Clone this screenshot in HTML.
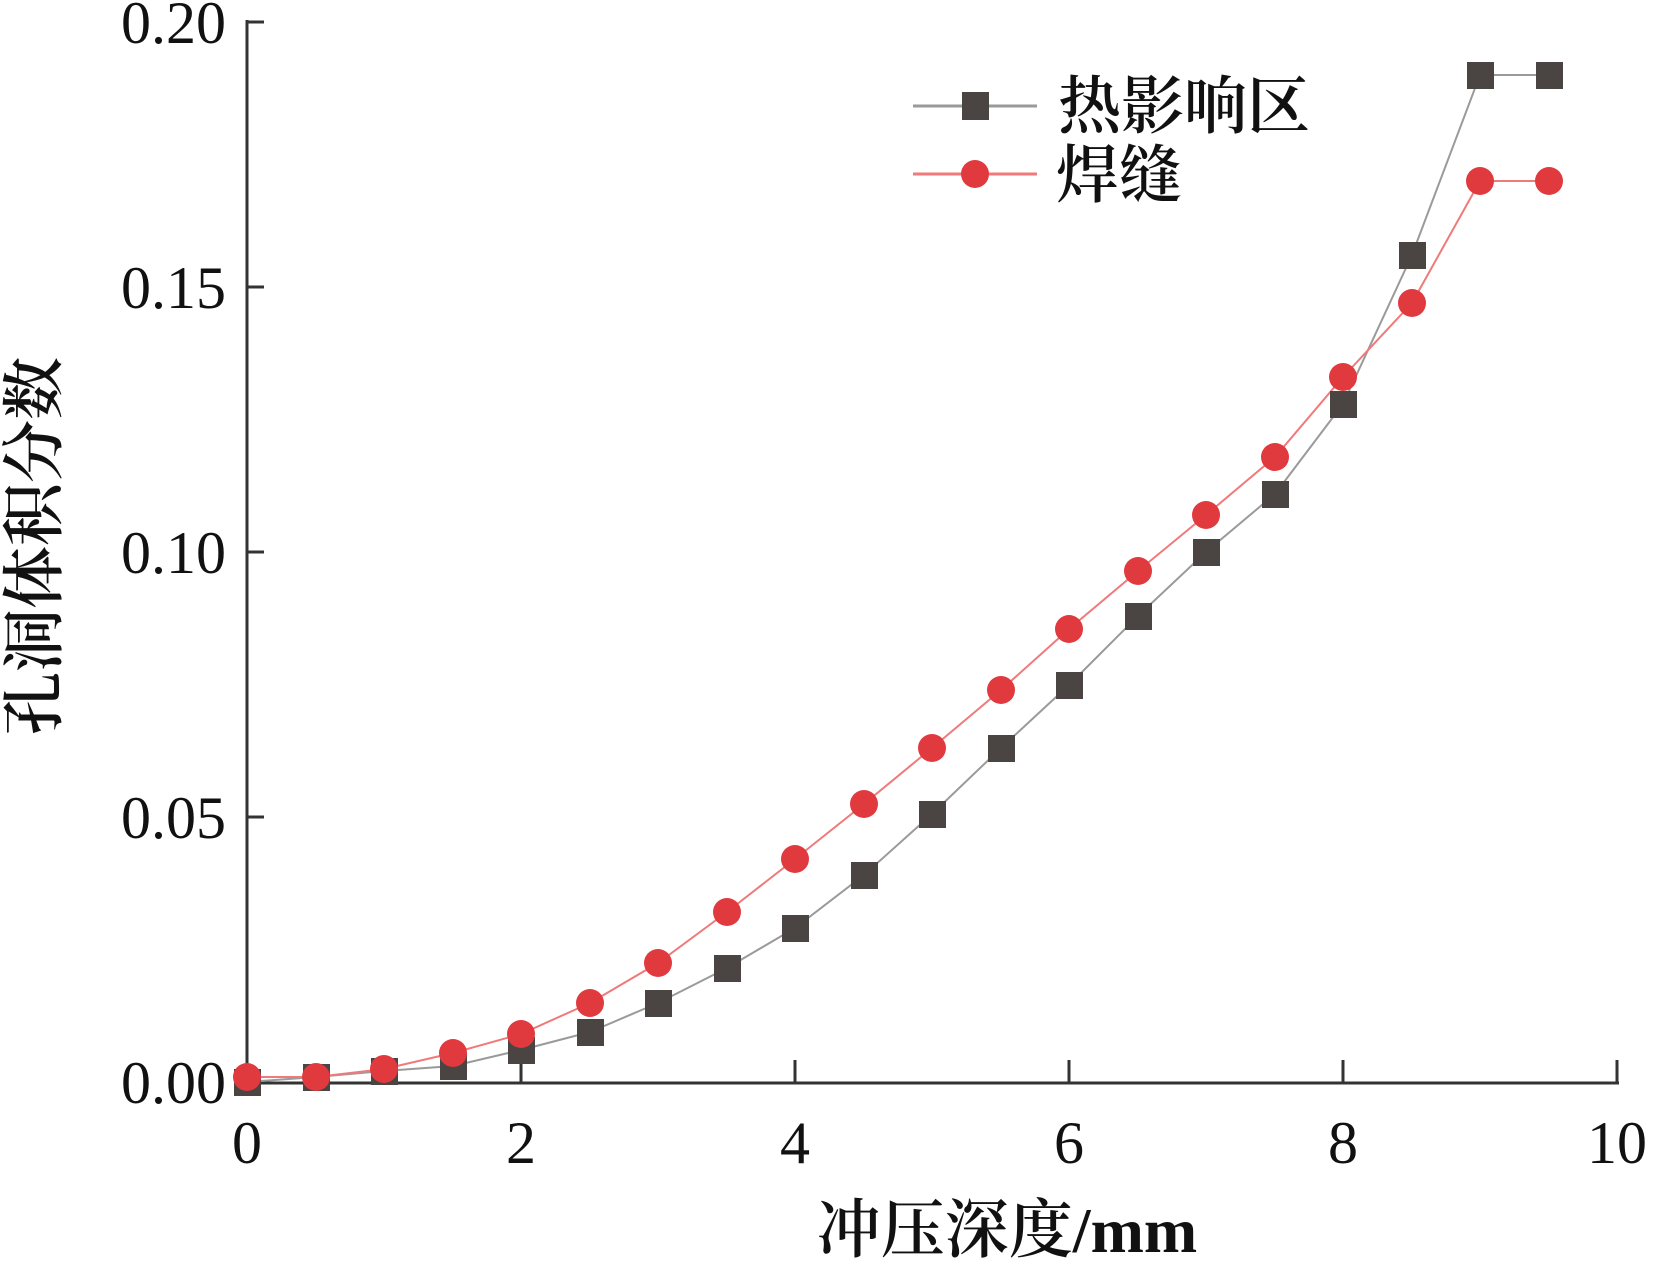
<!DOCTYPE html>
<html><head><meta charset="utf-8"><style>
html,body{margin:0;padding:0;background:#fff;}
svg{display:block;}
.t{font-family:"Liberation Serif","Noto Serif CJK SC",serif;fill:#111;}
.c{font-family:"Liberation Serif","Noto Serif CJK SC",serif;fill:#111;font-weight:600;}
</style></head><body>
<svg width="1654" height="1264" viewBox="0 0 1654 1264" xmlns="http://www.w3.org/2000/svg">
<g stroke="#333" stroke-width="3" fill="none">
<line x1="247" y1="20" x2="247" y2="1083"/>
<line x1="246" y1="1083" x2="1619" y2="1083"/>
<line x1="247" y1="22" x2="264" y2="22"/>
<line x1="247" y1="287" x2="264" y2="287"/>
<line x1="247" y1="552" x2="264" y2="552"/>
<line x1="247" y1="817" x2="264" y2="817"/>
<line x1="521" y1="1083" x2="521" y2="1060"/>
<line x1="795" y1="1083" x2="795" y2="1060"/>
<line x1="1069" y1="1083" x2="1069" y2="1060"/>
<line x1="1343" y1="1083" x2="1343" y2="1060"/>
<line x1="1617" y1="1083" x2="1617" y2="1060"/>
</g>
<g class="t" font-size="60" text-anchor="end">
<text x="226" y="43">0.20</text>
<text x="226" y="308">0.15</text>
<text x="226" y="573">0.10</text>
<text x="226" y="838">0.05</text>
<text x="226" y="1103">0.00</text>
</g>
<g class="t" font-size="60" text-anchor="middle">
<text x="247" y="1163">0</text>
<text x="521" y="1163">2</text>
<text x="795" y="1163">4</text>
<text x="1069" y="1163">6</text>
<text x="1343" y="1163">8</text>
<text x="1617" y="1163">10</text>
</g>
<text class="c" x="1007" y="1252" font-size="64" text-anchor="middle">冲压深度/mm</text>
<text class="c" x="0" y="0" font-size="63" text-anchor="middle" transform="translate(56,546) rotate(-90)">孔洞体积分数</text>
<polyline fill="none" stroke="#9a9a9a" stroke-width="2" points="247,1082 316,1077 384,1071 453,1066 521,1050 590,1032 658,1003 727,968 795,928 864,875 932,814 1001,748 1069,685 1138,616 1206,552 1275,494 1343,404 1412,255 1480,75 1549,75"/>
<polyline fill="none" stroke="#f07a7a" stroke-width="2" points="247,1077 316,1077 384,1069 453,1053 521,1034 590,1003 658,963 727,912 795,859 864,804 932,748 1001,690 1069,629 1138,571 1206,515 1275,457 1343,377 1412,303 1480,181 1549,181"/>
<g fill="#4a4443">
<rect x="234" y="1069" width="27" height="27"/><rect x="303" y="1064" width="27" height="27"/><rect x="371" y="1058" width="27" height="27"/><rect x="440" y="1053" width="27" height="27"/><rect x="508" y="1037" width="27" height="27"/><rect x="577" y="1019" width="27" height="27"/><rect x="645" y="990" width="27" height="27"/><rect x="714" y="955" width="27" height="27"/><rect x="782" y="915" width="27" height="27"/><rect x="851" y="862" width="27" height="27"/><rect x="919" y="801" width="27" height="27"/><rect x="988" y="735" width="27" height="27"/><rect x="1056" y="672" width="27" height="27"/><rect x="1125" y="603" width="27" height="27"/><rect x="1193" y="539" width="27" height="27"/><rect x="1262" y="481" width="27" height="27"/><rect x="1330" y="391" width="27" height="27"/><rect x="1399" y="242" width="27" height="27"/><rect x="1467" y="62" width="27" height="27"/><rect x="1536" y="62" width="27" height="27"/>
</g>
<g fill="#e03a3f">
<circle cx="247" cy="1077" r="14"/><circle cx="316" cy="1077" r="14"/><circle cx="384" cy="1069" r="14"/><circle cx="453" cy="1053" r="14"/><circle cx="521" cy="1034" r="14"/><circle cx="590" cy="1003" r="14"/><circle cx="658" cy="963" r="14"/><circle cx="727" cy="912" r="14"/><circle cx="795" cy="859" r="14"/><circle cx="864" cy="804" r="14"/><circle cx="932" cy="748" r="14"/><circle cx="1001" cy="690" r="14"/><circle cx="1069" cy="629" r="14"/><circle cx="1138" cy="571" r="14"/><circle cx="1206" cy="515" r="14"/><circle cx="1275" cy="457" r="14"/><circle cx="1343" cy="377" r="14"/><circle cx="1412" cy="303" r="14"/><circle cx="1480" cy="181" r="14"/><circle cx="1549" cy="181" r="14"/>
</g>
<line x1="913" y1="106" x2="1037" y2="106" stroke="#9a9a9a" stroke-width="3"/>
<rect x="962" y="92" width="27" height="28" fill="#4a4443"/>
<line x1="913" y1="174" x2="1037" y2="174" stroke="#f07a7a" stroke-width="3"/>
<circle cx="975" cy="174" r="14" fill="#e03a3f"/>
<text class="c" x="1058" y="128" font-size="63">热影响区</text>
<text class="c" x="1056" y="197" font-size="63">焊缝</text>
</svg>
</body></html>
